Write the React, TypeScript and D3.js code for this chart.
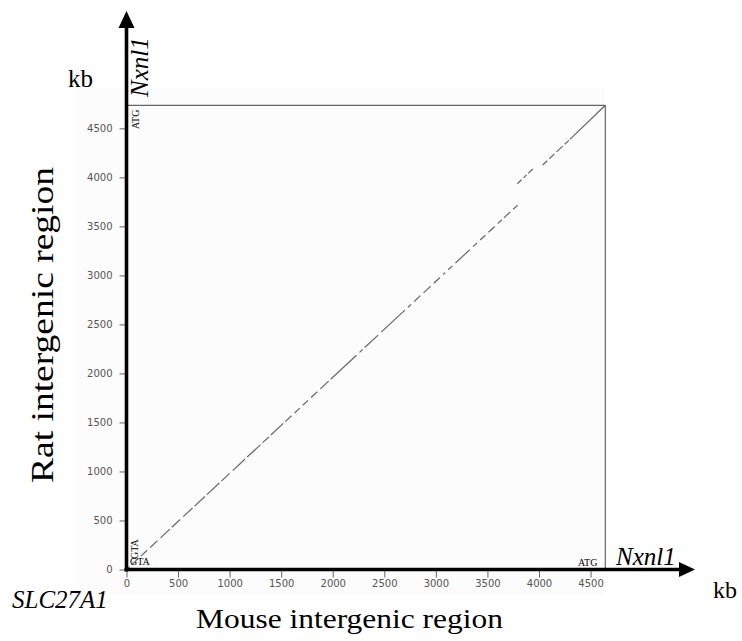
import * as d3 from 'd3';
import { useEffect, useRef } from 'react';

const width = 742;
const height = 641;

// sequence lengths, kb
const mouseLength = 4643;
const ratLength = 4735;
const tickValues = [0, 500, 1000, 1500, 2000, 2500, 3000, 3500, 4000, 4500];

// aligned blocks as [mouse start, mouse end, rat start, rat end] in kb
const mainChain: [number, number, number, number][] = [
  [0, 30, 0, 29],
  [50, 110, 49, 108],
  [140, 200, 137, 196],
  [230, 300, 225, 294],
  [330, 420, 323, 412],
  [440, 520, 431, 510],
  [550, 640, 539, 627],
  [660, 760, 647, 745],
  [780, 900, 764, 882],
  [920, 1000, 902, 980],
  [1030, 1150, 1009, 1127],
  [1170, 1300, 1147, 1274],
  [1320, 1380, 1294, 1352],
  [1400, 1520, 1372, 1490],
  [1540, 1600, 1509, 1568],
  [1630, 1680, 1597, 1646],
  [1710, 1760, 1676, 1725],
  [1790, 1850, 1754, 1813],
  [1880, 1960, 1842, 1921],
  [1980, 2230, 1940, 2185],
  [2260, 2290, 2215, 2244],
  [2310, 2440, 2264, 2391],
  [2470, 2700, 2421, 2646],
  [2730, 2760, 2675, 2705],
  [2790, 2850, 2734, 2793],
  [2880, 2950, 2822, 2891],
  [2980, 3040, 2920, 2979],
  [3070, 3090, 3009, 3028],
  [3120, 3160, 3058, 3097],
  [3190, 3330, 3126, 3263],
  [3360, 3400, 3293, 3332],
  [3430, 3480, 3361, 3410],
  [3510, 3570, 3440, 3499],
  [3600, 3640, 3528, 3567],
  [3660, 3720, 3587, 3646],
  [3750, 3793, 3675, 3717],
];

const shiftedChain: [number, number, number, number][] = [
  [3790, 3830, 3935, 3975],
  [3850, 3880, 3995, 4025],
  [3895, 3940, 4040, 4085],
];

const endChain: [number, number, number, number][] = [
  [4036, 4080, 4126, 4170],
  [4100, 4150, 4190, 4240],
  [4170, 4230, 4260, 4318],
  [4250, 4290, 4338, 4377],
  [4300, 4643, 4387, 4735],
];

const blocks = [...mainChain, ...shiftedChain, ...endChain];

const x = d3.scaleLinear().domain([0, mouseLength]).range([126.5, 605.3]);
const y = d3.scaleLinear().domain([0, ratLength]).range([569.5, 105.3]);

const serif = '"Liberation Serif", "Times New Roman", serif';

export default function App() {
  const xAxisRef = useRef<SVGGElement>(null);
  const yAxisRef = useRef<SVGGElement>(null);

  useEffect(() => {
    const fmt = d3.format('d');
    const gx = d3.select(xAxisRef.current);
    gx.call(
      d3.axisBottom(x).tickValues(tickValues).tickSize(8).tickPadding(2).tickFormat(fmt)
    );
    const gy = d3.select(yAxisRef.current);
    gy.call(
      d3.axisLeft(y).tickValues(tickValues).tickSize(7).tickPadding(7).tickFormat(fmt)
    );
    [gx, gy].forEach((g) => {
      g.select('.domain').remove();
      g.selectAll('.tick line').attr('stroke', '#666').attr('stroke-width', 1);
      g.selectAll('.tick text')
        .attr('fill', '#555')
        .style('font-family', '"DejaVu Sans", Verdana, sans-serif')
        .style('font-size', '10px');
    });
  }, []);

  const x0 = x(0);
  const y0 = y(0);

  return (
    <svg
      width={width}
      height={height}
      style={{ position: 'absolute', left: 0, top: 0, background: '#fff' }}
    >
      <rect x={78} y={88} width={x(mouseLength) - 78} height={595 - 88} fill="#fcfcfc" />

      {/* frame */}
      <line x1={x0} x2={x(mouseLength)} y1={y(ratLength)} y2={y(ratLength)} stroke="#666" strokeWidth={1.2} />
      <line x1={x(mouseLength)} x2={x(mouseLength)} y1={y(ratLength)} y2={y0} stroke="#666" strokeWidth={1.2} />

      {/* dot plot */}
      <g stroke="#666" strokeWidth={1.2}>
        {blocks.map((b, i) => (
          <line key={i} x1={x(b[0])} x2={x(b[1])} y1={y(b[2])} y2={y(b[3])} />
        ))}
      </g>

      <g ref={xAxisRef} transform={`translate(0,${y0})`} />
      <g ref={yAxisRef} transform={`translate(${x0},0)`} />

      {/* axis arrows */}
      <line x1={x0} x2={x0} y1={y0 + 2} y2={27} stroke="#000" strokeWidth={3.6} />
      <polygon points={`${x0},11 ${x0 - 8},28 ${x0 + 8},28`} fill="#000" />
      <line x1={x0 - 2} x2={681} y1={y0} y2={y0} stroke="#000" strokeWidth={3.6} />
      <polygon points={`695,${y0} 679,${y0 - 7.5} 679,${y0 + 7.5}`} fill="#000" />

      <g fontFamily={serif} fill="#000">
        <text x={68} y={87} fontSize={25}>kb</text>
        <text transform="translate(148,97) rotate(-90)" fontSize={25} fontStyle="italic">Nxnl1</text>
        <text transform="translate(139,129) rotate(-90)" fontSize={10}>ATG</text>
        <text transform="translate(53,483) rotate(-90)" fontSize={32} textLength={316} lengthAdjust="spacingAndGlyphs">
          Rat intergenic region
        </text>
        <text x={12} y={608} fontSize={25} fontStyle="italic">SLC27A1</text>
        <text x={196} y={628} fontSize={27} textLength={307} lengthAdjust="spacingAndGlyphs">
          Mouse intergenic region
        </text>
        <text x={713} y={598} fontSize={24}>kb</text>
        <text x={616} y={565} fontSize={25} fontStyle="italic">Nxnl1</text>
        <text x={578} y={566} fontSize={10}>ATG</text>
        <text x={130} y={565} fontSize={10}>GTA</text>
        <text transform="translate(138,559) rotate(-90)" fontSize={10}>GTA</text>
      </g>
    </svg>
  );
}
